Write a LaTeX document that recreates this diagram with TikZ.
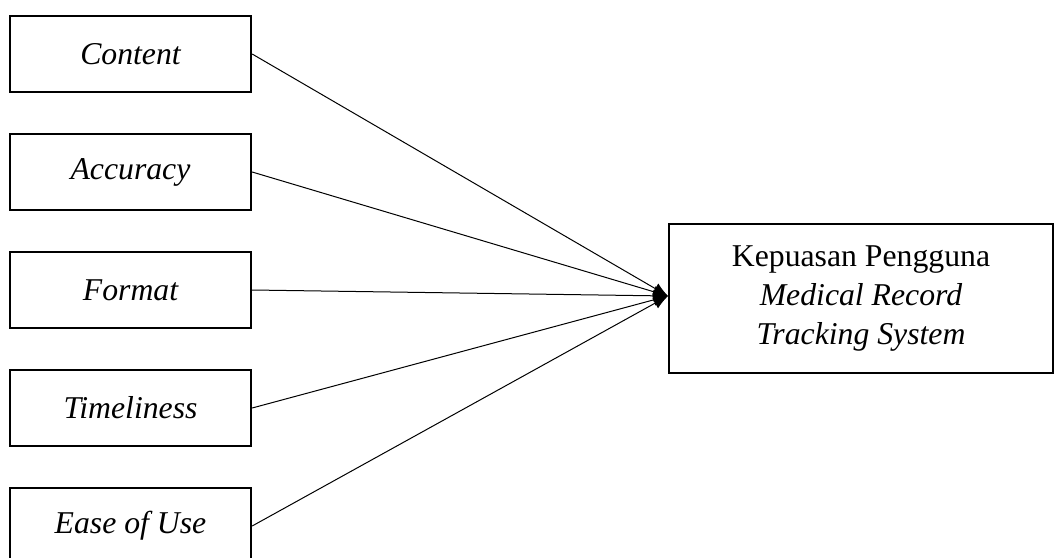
\documentclass[tikz,border=0pt]{standalone}
\usepackage{fontspec}
\setmainfont{Liberation Serif}
\usetikzlibrary{calc,positioning,arrows.meta}

\begin{document}
\begin{tikzpicture}[x=0.75pt,y=0.75pt,
    var/.style={draw,line width=1.5pt,minimum width=181pt,minimum height=57pt,inner sep=0pt,
      font=\fontsize{23.8}{29}\selectfont\itshape},
    result/.style={draw,line width=1.5pt,minimum width=288pt,minimum height=112pt,inner sep=0pt,
      align=center,font=\fontsize{23.8}{29}\selectfont},
    link/.style={line width=0.75pt,-{Latex[length=11pt,width=9pt]}}]
    \useasboundingbox (0,0) rectangle (1056,-557);

    \node[var] (content)    at (130.5,-54)  {Content};
    \node[var] (accuracy)   at (130.5,-172) {Accuracy};
    \node[var] (format)     at (130.5,-290) {Format};
    \node[var] (timeliness) at (130.5,-408) {Timeliness};
    \node[var] (ease)       at (130.5,-526) {Ease of Use};

    \node[result] (kepuasan) at (861,-298.5)
      {Kepuasan Pengguna\\ \textit{Medical Record}\\ \textit{Tracking System}};
    \coordinate (tip) at ($(kepuasan.west)+(0,2.5)$);

    \draw[link] (content.east) -- (tip);
    \draw[link] (accuracy.east) -- (tip);
    \draw[link] (format.east) -- (tip);
    \draw[link] (timeliness.east) -- (tip);
    \draw[link] (ease.east) -- (tip);
\end{tikzpicture}
\end{document}
